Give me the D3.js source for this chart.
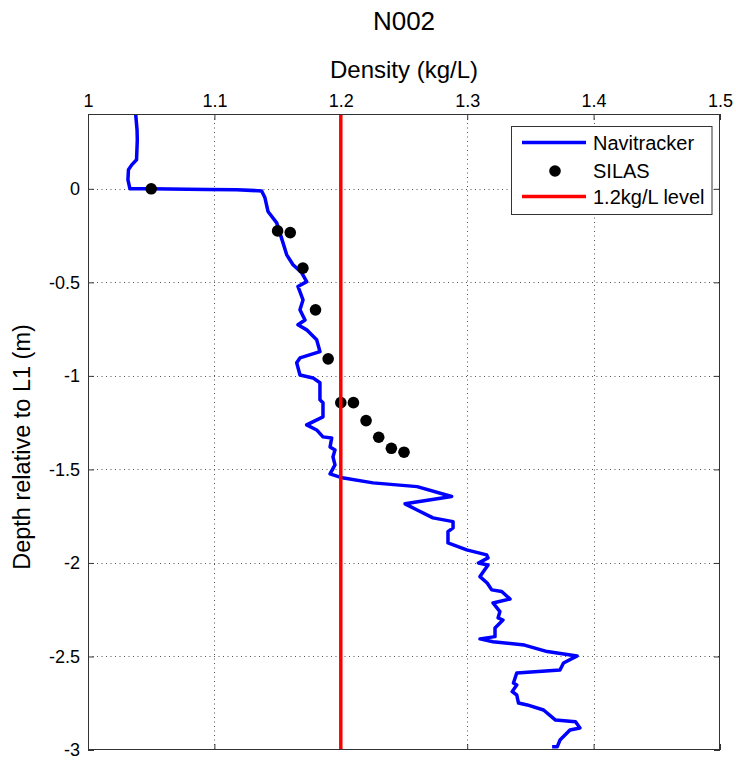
<!DOCTYPE html>
<html>
<head>
<meta charset="utf-8">
<script src="https://cdn.jsdelivr.net/npm/d3@7"></script>
<style>
body { margin: 0; background: #fff; }
svg { display: block; font-family: "Liberation Sans", Arial, sans-serif; }
</style>
</head>
<body>
<svg id="chart" width="736" height="763"></svg>
<script>
// Navitracker density profile (kg/L) vs depth (m)
const navDensity = [1.0377,1.0388,1.039,1.0384,1.0346,1.032,1.0316,1.0332,1.049,1.0939,1.1176,1.1374,1.14,1.1424,1.1493,1.1543,1.1572,1.1622,1.1691,1.173,1.1661,1.1701,1.1677,1.1717,1.1661,1.173,1.1809,1.1835,1.1677,1.1651,1.1677,1.178,1.1835,1.1835,1.1859,1.1859,1.173,1.1809,1.1859,1.1928,1.1915,1.1954,1.1938,1.1954,1.1915,1.2011,1.2255,1.2604,1.2877,1.2508,1.2604,1.2729,1.2888,1.2888,1.2848,1.2848,1.2996,1.3154,1.3165,1.3089,1.3165,1.3101,1.3158,1.3194,1.3273,1.3339,1.3204,1.3259,1.3244,1.3283,1.322,1.322,1.3101,1.3204,1.3453,1.3633,1.387,1.3762,1.3734,1.3392,1.3366,1.3392,1.3356,1.3392,1.3406,1.3475,1.3604,1.3699,1.3857,1.3892,1.3813,1.3734,1.3712,1.3672];
const navDepth = [0.401,0.3155,0.262,0.155,0.128,0.102,0.048,0,0,-0.003,-0.005,-0.011,-0.048,-0.121,-0.182,-0.289,-0.353,-0.406,-0.449,-0.496,-0.522,-0.594,-0.647,-0.701,-0.727,-0.754,-0.807,-0.870,-0.904,-0.930,-0.995,-1.011,-1.037,-1.128,-1.144,-1.219,-1.262,-1.289,-1.326,-1.332,-1.380,-1.396,-1.433,-1.476,-1.524,-1.545,-1.572,-1.592,-1.645,-1.684,-1.717,-1.759,-1.779,-1.813,-1.833,-1.893,-1.930,-1.957,-1.973,-2.000,-2.011,-2.073,-2.107,-2.144,-2.153,-2.193,-2.214,-2.260,-2.294,-2.305,-2.348,-2.394,-2.406,-2.421,-2.439,-2.474,-2.497,-2.535,-2.572,-2.588,-2.642,-2.652,-2.688,-2.706,-2.749,-2.759,-2.786,-2.840,-2.849,-2.882,-2.893,-2.947,-2.983,-2.983];
// SILAS samples
const silasDensity = [1.05,1.15,1.16,1.17,1.18,1.19,1.20,1.21,1.22,1.23,1.24,1.25];
const silasDepth = [0,-0.225,-0.234,-0.424,-0.647,-0.909,-1.143,-1.143,-1.239,-1.328,-1.387,-1.408];
const levelDensity = 1.2;
const xTicks = [1,1.1,1.2,1.3,1.4,1.5];
const yTicks = [0,-0.5,-1,-1.5,-2,-2.5,-3];
const xTickLabels = ["1","1.1","1.2","1.3","1.4","1.5"];
const yTickLabels = ["0","-0.5","-1","-1.5","-2","-2.5","-3"];
const legendLabels = ["Navitracker","SILAS","1.2kg/L level"];

const svg = d3.select("#chart");
const L = 88, R = 720, T = 114, B = 750;
const x = d3.scaleLinear().domain([1,1.5]).range([L,R]);
const y = d3.scaleLinear().domain([-3,0.4]).range([B,T]);

// grid
const grid = svg.append("g").attr("stroke","#555").attr("stroke-width",1).attr("stroke-dasharray","1,3.5");
grid.selectAll(".gx").data(xTicks.slice(1,-1)).enter().append("line")
  .attr("x1",d=>Math.round(x(d))+0.5).attr("x2",d=>Math.round(x(d))+0.5).attr("y1",T).attr("y2",B);
grid.selectAll(".gy").data(yTicks.slice(0,-1)).enter().append("line")
  .attr("y1",d=>Math.round(y(d))+0.5).attr("y2",d=>Math.round(y(d))+0.5).attr("x1",L).attr("x2",R);

// axes
const tk = 6;
const axTop = d3.axisTop(x).tickValues(xTicks).tickFormat((d,i)=>xTickLabels[i]).tickSizeInner(-tk).tickSizeOuter(0).tickPadding(7);
const axBottom = d3.axisBottom(x).tickValues(xTicks).tickFormat("").tickSizeInner(-tk).tickSizeOuter(0);
const axLeft = d3.axisLeft(y).tickValues(yTicks).tickFormat((d,i)=>yTickLabels[i]).tickSizeInner(-tk).tickSizeOuter(0).tickPadding(8);
const axRight = d3.axisRight(y).tickValues(yTicks).tickFormat("").tickSizeInner(-tk).tickSizeOuter(0);

function styleAxis(g){
  g.select(".domain").remove();
  g.selectAll(".tick line").attr("stroke","#333");
  g.selectAll(".tick text").attr("fill","#000").style("font-size","18px").style("font-family","'Liberation Sans', Arial, sans-serif");
}
svg.append("g").attr("transform",`translate(0,${T})`).call(axTop).call(styleAxis);
svg.append("g").attr("transform",`translate(0,${B})`).call(axBottom).call(styleAxis);
svg.append("g").attr("transform",`translate(${L},0)`).call(axLeft).call(styleAxis);
svg.append("g").attr("transform",`translate(${R},0)`).call(axRight).call(styleAxis);

// clip
svg.append("clipPath").attr("id","clip").append("rect").attr("x",L).attr("y",T).attr("width",R-L).attr("height",B-T);
const plot = svg.append("g").attr("clip-path","url(#clip)");

// Navitracker line
const navData = navDensity.map((d,i)=>[d,navDepth[i]]);
plot.append("path").datum(navData)
  .attr("d", d3.line().x(d=>x(d[0])).y(d=>y(d[1])))
  .attr("fill","none").attr("stroke","#0000ff").attr("stroke-width",3.5).attr("stroke-linejoin","round");

// SILAS dots
plot.selectAll(".silas").data(silasDensity.map((d,i)=>[d,silasDepth[i]])).enter().append("circle")
  .attr("cx",d=>x(d[0])).attr("cy",d=>y(d[1])).attr("r",5.8).attr("fill","#000");

// level line
plot.append("line").attr("x1",x(levelDensity)).attr("x2",x(levelDensity)).attr("y1",T).attr("y2",B)
  .attr("stroke","#ff0000").attr("stroke-width",3.5);

// box
svg.append("rect").attr("x",L+0.5).attr("y",T+0.5).attr("width",R-L-1).attr("height",B-T-1)
  .attr("fill","none").attr("stroke","#333").attr("stroke-width",1);

// titles
svg.append("text").attr("x",(L+R)/2).attr("y",30).attr("text-anchor","middle").style("font-size","26px").text("N002");
svg.append("text").attr("x",(L+R)/2).attr("y",78).attr("text-anchor","middle").style("font-size","24px").text("Density (kg/L)");
svg.append("text").attr("transform",`translate(30,${(T+B)/2 + 15}) rotate(-90)`).attr("text-anchor","middle").style("font-size","23.5px").text("Depth relative to L1 (m)");

// legend
const lg = svg.append("g");
lg.append("rect").attr("x",511.5).attr("y",126.5).attr("width",200.5).attr("height",88).attr("fill","#fff").attr("stroke","#333");
const ly = [142.5,171,196.5];
lg.append("line").attr("x1",522).attr("x2",586).attr("y1",ly[0]).attr("y2",ly[0]).attr("stroke","#0000ff").attr("stroke-width",3.5);
lg.append("circle").attr("cx",555).attr("cy",ly[1]).attr("r",5.8).attr("fill","#000");
lg.append("line").attr("x1",522).attr("x2",586).attr("y1",ly[2]).attr("y2",ly[2]).attr("stroke","#ff0000").attr("stroke-width",3.5);
lg.selectAll(".lt").data(legendLabels).enter().append("text")
  .attr("x",593).attr("y",(d,i)=>[149.5,178,203.5][i]).style("font-size","20px").text(d=>d);
</script>
</body>
</html>
